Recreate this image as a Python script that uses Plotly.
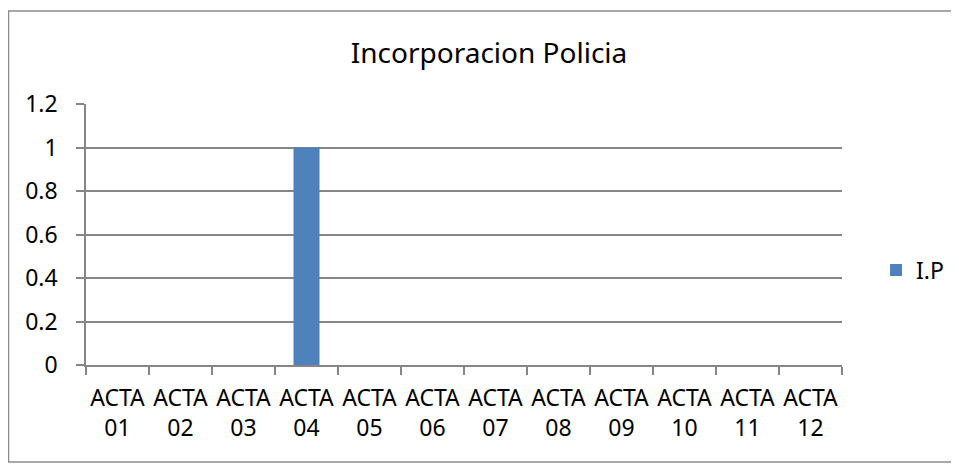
import plotly.graph_objects as go

# chart data
categories = ["ACTA<br>01", "ACTA<br>02", "ACTA<br>03", "ACTA<br>04",
              "ACTA<br>05", "ACTA<br>06", "ACTA<br>07", "ACTA<br>08",
              "ACTA<br>09", "ACTA<br>10", "ACTA<br>11", "ACTA<br>12"]
ip_values = [0, 0, 0, 1, 0, 0, 0, 0, 0, 0, 0, 0]
y_ticks = [0, 0.2, 0.4, 0.6, 0.8, 1, 1.2]

FONT = "Noto Sans"
GRID = "#868686"

fig = go.Figure()

fig.add_trace(go.Bar(
    x=categories,
    y=ip_values,
    name="I.P",
    marker_color="#4F81BD",
    marker_line_width=0
))

# the page body adds an 8px offset, so margins are shifted to compensate
fig.update_layout(
    width=959,
    height=464,
    paper_bgcolor="white",
    plot_bgcolor="white",
    font=dict(family=FONT, size=23, color="black"),
    margin=dict(l=78, r=125, t=96, b=107),
    bargap=0.587,
    title=dict(
        text="Incorporacion Policia",
        font=dict(family=FONT, size=28, color="black"),
        x=0.5016, xanchor="center",
        y=0.903, yanchor="middle"
    ),
    showlegend=True,
    legend=dict(
        x=1.045, xanchor="left",
        y=0.364, yanchor="middle",
        font=dict(family=FONT, size=23, color="black"),
        bgcolor="rgba(0,0,0,0)"
    ),
    xaxis=dict(
        type="category",
        showgrid=False,
        showline=True,
        linecolor=GRID,
        linewidth=1.5,
        ticks="outside",
        tickson="boundaries",
        ticklen=8,
        tickcolor=GRID,
        tickwidth=1.5,
        tickangle=0,
        ticklabelstandoff=12,
        tickfont=dict(family=FONT, size=23, color="black")
    ),
    yaxis=dict(
        range=[0, 1.2],
        tickvals=y_ticks,
        showgrid=True,
        gridcolor=GRID,
        gridwidth=1.5,
        zeroline=False,
        showline=True,
        linecolor=GRID,
        linewidth=1.5,
        ticks="outside",
        ticklen=8,
        tickcolor=GRID,
        tickwidth=1.5,
        ticklabelstandoff=14,
        tickfont=dict(family=FONT, size=23, color="black")
    )
)

# outer chart border (runs off the right edge like the original)
fig.add_shape(
    type="rect", xref="paper", yref="paper",
    x0=-0.1025, x1=1.3, y0=-0.372, y1=1.356,
    line=dict(color="#8C8C8C", width=1.5),
    fillcolor="rgba(0,0,0,0)", layer="below"
)

fig.write_html("out.html")
